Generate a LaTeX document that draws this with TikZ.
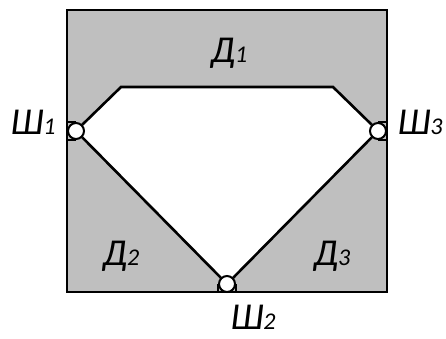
\documentclass[tikz,border=0pt]{standalone}
\usepackage{fontspec}
\setmainfont{Carlito}
\newcommand{\lbl}[2]{{\fontsize{38}{40}\selectfont\itshape #1}{\fontsize{24}{26}\selectfont\itshape #2}}
\begin{document}
\begin{tikzpicture}[x=1pt,y=-1pt,
  body/.style={line width=2.6pt, line join=miter},
  joint/.style={circle, draw, fill=white, line width=2pt, minimum size=16pt, inner sep=0pt},
  txt/.style={inner sep=0pt, text=black}]
\useasboundingbox (0,0) rectangle (446,338);
\coordinate (TL) at (67,10);
\coordinate (TR) at (387,10);
\coordinate (BL) at (67,292);
\coordinate (BR) at (387,292);
\coordinate (A) at (121,87);
\coordinate (B) at (333,87);
\fill[black!25] (TL) rectangle (BR);
\fill[white] (76,131) -- (A) -- (B) -- (379,131) -- (227,283) -- cycle;
\draw[body] (TL) rectangle (BR);
\node[joint] (J1) at (76,131) {};
\node[joint] (J2) at (227,284) {};
\node[joint] (J3) at (378,131) {};
\draw[body] (J1.north east) -- (A) -- (B) -- (J3.north west);
\draw[body] (J1) -- (J2) -- (J3);
\draw[body, line width=2pt] (J1.north) -- (J1.north -| TL);
\draw[body, line width=2pt] (J1.south) -- (J1.south -| TL);
\draw[body, line width=2pt] (J3.north) -- (J3.north -| TR);
\draw[body, line width=2pt] (J3.south) -- (J3.south -| TR);
\draw[body, line width=2pt] (J2.west) -- (J2.west |- BL);
\draw[body, line width=2pt] (J2.east) -- (J2.east |- BR);
\node[txt] (D1) at (229,53) {\lbl{Д}{1}};
\node[txt] (D2) at (121,256) {\lbl{Д}{2}};
\node[txt] (D3) at (332,256) {\lbl{Д}{3}};
\node[txt] (S1) at (33,122) {\lbl{Ш}{1}};
\node[txt] (S3) at (420,122) {\lbl{Ш}{3}};
\node[txt] (S2) at (253,317) {\lbl{Ш}{2}};
\end{tikzpicture}
\end{document}
